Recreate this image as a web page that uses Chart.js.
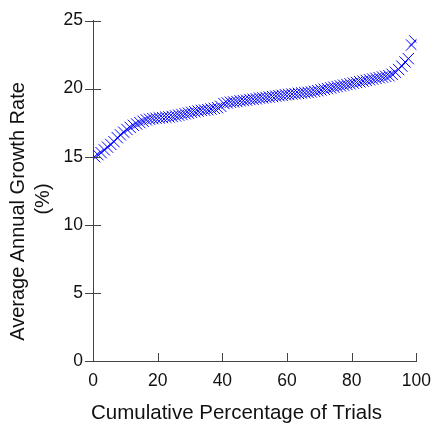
<!DOCTYPE html>
<html>
<head>
<meta charset="utf-8">
<script src="https://cdn.jsdelivr.net/npm/chart.js@4.4.1/dist/chart.umd.min.js"></script>
<style>
  html, body { margin: 0; padding: 0; background: #fff; }
  #wrap { position: relative; width: 441px; height: 433px; }
  #ytitle { position: absolute; left: 0; top: 0; width: 60px; height: 433px; pointer-events: none; }
  #ytitle text { font-family: 'Liberation Sans', Arial, sans-serif; font-size: 20px; fill: #111; }
</style>
</head>
<body>
<div id="wrap">
  <canvas id="chart" width="441" height="433"></canvas>
  <svg id="ytitle" width="60" height="433" xmlns="http://www.w3.org/2000/svg"></svg>
</div>
<script>
/* ========= Data ========= */
const trialPct = [
  0.5, 1.5, 2.5, 3.5, 4.5, 5.5, 6.5, 7.5, 8.5, 9.5,
  10.5, 11.5, 12.5, 13.5, 14.5, 15.5, 16.5, 17.5, 18.5, 19.5,
  20.5, 21.5, 22.5, 23.5, 24.5, 25.5, 26.5, 27.5, 28.5, 29.5,
  30.5, 31.5, 32.5, 33.5, 34.5, 35.5, 36.5, 37.5, 38.5, 39.5,
  40.5, 41.5, 42.5, 43.5, 44.5, 45.5, 46.5, 47.5, 48.5, 49.5,
  50.5, 51.5, 52.5, 53.5, 54.5, 55.5, 56.5, 57.5, 58.5, 59.5,
  60.5, 61.5, 62.5, 63.5, 64.5, 65.5, 66.5, 67.5, 68.5, 69.5,
  70.5, 71.5, 72.5, 73.5, 74.5, 75.5, 76.5, 77.5, 78.5, 79.5,
  80.5, 81.5, 82.5, 83.5, 84.5, 85.5, 86.5, 87.5, 88.5, 89.5,
  90.5, 91.5, 92.5, 93.5, 94.5, 95.5, 96.5, 97.5, 98.5, 99.5
];

const growthRate = [
  15.0, 15.15, 15.3, 15.5, 15.7, 15.9, 16.1, 16.4, 16.6, 16.8,
  17.0, 17.15, 17.3, 17.4, 17.5, 17.6, 17.7, 17.75, 17.8, 17.82,
  17.85, 17.87, 17.9, 17.92, 17.95, 18.0, 18.05, 18.1, 18.15, 18.2,
  18.25, 18.3, 18.35, 18.4, 18.42, 18.45, 18.5, 18.55, 18.6, 18.7,
  18.9, 18.95, 19.0, 19.02, 19.05, 19.1, 19.12, 19.15, 19.2, 19.22,
  19.25, 19.3, 19.32, 19.35, 19.38, 19.42, 19.45, 19.48, 19.5, 19.55,
  19.57, 19.6, 19.62, 19.65, 19.68, 19.7, 19.72, 19.75, 19.8, 19.85,
  19.9, 19.95, 20.0, 20.05, 20.1, 20.15, 20.2, 20.25, 20.3, 20.35,
  20.4, 20.45, 20.5, 20.55, 20.6, 20.65, 20.7, 20.75, 20.8, 20.85,
  20.9, 20.95, 21.05, 21.2, 21.4, 21.65, 21.95, 22.2, 23.2, 23.5
];

const xTicks = [0, 20, 40, 60, 80, 100];
const yTicks = [0, 5, 10, 15, 20, 25];
const xTitle = 'Cumulative Percentage of Trials';
const yTitle = ['Average Annual Growth Rate', '(%)'];

const fontFamily = 'Liberation Sans, Arial, sans-serif';

/* ========= Y title (SVG text, rotated) ========= */
const svg = document.getElementById('ytitle');
svg.innerHTML =
  `<text text-anchor="middle" transform="translate(24 211.5) rotate(-90)">${yTitle[0]}</text>` +
  `<text text-anchor="middle" transform="translate(49 199) rotate(-90)">${yTitle[1]}</text>`;

/* ========= Tick marks + x title ========= */
const axisExtras = {
  id: 'axisExtras',
  afterDraw(chart) {
    const { ctx, scales: { x, y } } = chart;
    ctx.save();
    ctx.strokeStyle = '#444';
    ctx.lineWidth = 1;
    ctx.beginPath();
    xTicks.forEach(v => {
      const px = Math.round(x.getPixelForValue(v)) + 0.5;
      ctx.moveTo(px, y.bottom + 1);
      ctx.lineTo(px, y.bottom - 8);
    });
    yTicks.forEach(v => {
      const py = Math.round(y.getPixelForValue(v)) + 0.5;
      ctx.moveTo(x.left - 8, py);
      ctx.lineTo(x.left + 8, py);
    });
    ctx.stroke();

    ctx.fillStyle = '#111';
    ctx.textAlign = 'center';
    ctx.textBaseline = 'middle';
    ctx.font = '20.5px ' + fontFamily;
    ctx.fillText(xTitle, 236.5, 413);
    ctx.restore();
  }
};

new Chart(document.getElementById('chart'), {
  type: 'scatter',
  data: {
    datasets: [{
      data: trialPct.map((v, i) => ({ x: v, y: growthRate[i] })),
      pointStyle: 'crossRot',
      pointRadius: 8,
      pointHoverRadius: 8,
      borderColor: '#0000ff',
      borderWidth: 1,
      backgroundColor: '#0000ff'
    }]
  },
  options: {
    responsive: false,
    animation: false,
    events: [],
    layout: { padding: { top: 17, right: 24, left: 0, bottom: 0 } },
    plugins: { legend: { display: false }, tooltip: { enabled: false } },
    scales: {
      x: {
        type: 'linear',
        min: 0, max: 100,
        afterBuildTicks: s => { s.ticks = xTicks.map(v => ({ value: v })); },
        afterFit: s => { s.height = 72; },
        grid: { display: false, drawTicks: false },
        border: { display: true, color: '#444', width: 1 },
        ticks: { color: '#111', padding: 10, maxRotation: 0, font: { family: fontFamily, size: 17.5 } },
        title: { display: false }
      },
      y: {
        type: 'linear',
        min: 0, max: 25,
        afterBuildTicks: s => { s.ticks = yTicks.map(v => ({ value: v })); },
        afterFit: s => { s.width = 93; },
        grid: { display: false, drawTicks: false },
        border: { display: true, color: '#444', width: 1 },
        ticks: { color: '#111', padding: 10, font: { family: fontFamily, size: 17.5 } },
        title: { display: false }
      }
    }
  },
  plugins: [axisExtras]
});
</script>
</body>
</html>
